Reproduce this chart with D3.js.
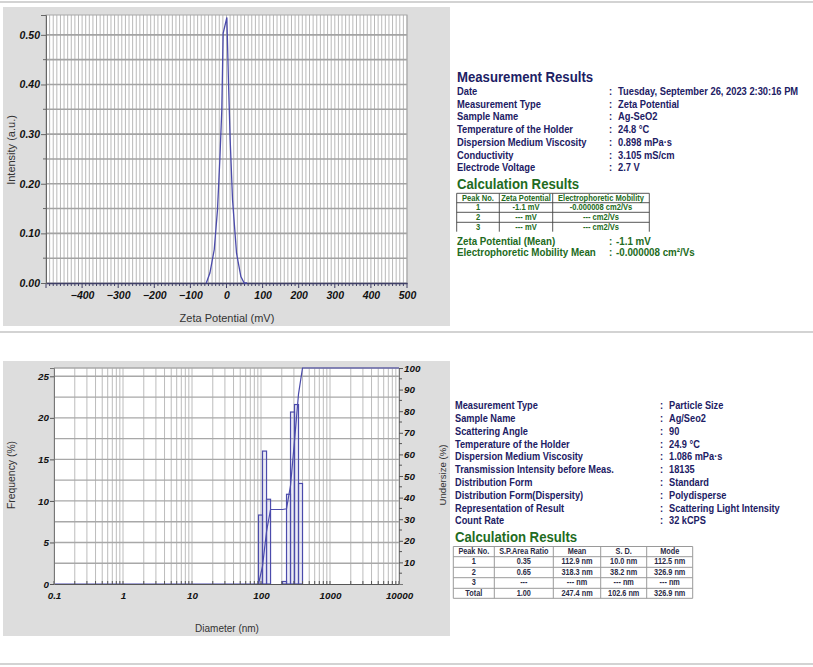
<!DOCTYPE html>
<html><head><meta charset="utf-8">
<script src="https://cdn.jsdelivr.net/npm/d3@7/dist/d3.min.js"></script>
<style>body{margin:0;background:#fff;}svg{display:block;}</style>
</head><body>
<svg id="c" width="813" height="667"></svg>
<script>
// ---------- DATA ----------
// Zeta potential distribution
const zetaMV = [-56, -46, -34, -25, -18.5, -13, -9.3, 1, 5.6, 10.2, 16.7, 27.8, 39.8, 49, 57];
const zetaIntensity = [0, 0.02, 0.067, 0.147, 0.248, 0.349, 0.503, 0.535, 0.402, 0.288, 0.168, 0.06, 0.013, 0, 0];
const zetaXTicks = [-400, -300, -200, -100, 0, 100, 200, 300, 400, 500];
const zetaYTicks = [0, 0.1, 0.2, 0.3, 0.4, 0.5];

// Particle size distribution (bin edges in nm, frequency %)
const binEdges = [92.1, 105.2, 120.3, 137.5, 157.1, 179.5, 205.1, 234.4, 267.8, 306.0, 349.6, 399.5];
const frequency = [8.3, 16.0, 10.2, 0, 0, 0, 0.3, 10.8, 20.7, 21.6, 12.1];
const undersizeD = [0.1, 92.1, 105.2, 120.3, 137.5, 157.1, 179.5, 205.1, 234.4, 267.8, 306.0, 349.6, 399.5, 10000];
const undersize = [0, 0, 8.3, 24.3, 34.5, 34.5, 34.5, 34.5, 34.8, 45.6, 66.3, 87.9, 100, 100];
const sizeXTicks = [0.1, 1, 10, 100, 1000, 10000];
const freqTicks = [0, 5, 10, 15, 20, 25];
const underTicks = [10, 20, 30, 40, 50, 60, 70, 80, 90, 100];

// Info texts
const zetaInfoLabels = ["Date", "Measurement Type", "Sample Name", "Temperature of the Holder", "Dispersion Medium Viscosity", "Conductivity", "Electrode Voltage"];
const zetaInfoValues = ["Tuesday, September 26, 2023 2:30:16 PM", "Zeta Potential", "Ag-SeO2", "24.8 °C", "0.898 mPa·s", "3.105 mS/cm", "2.7 V"];
const zetaTableHead = ["Peak No.", "Zeta Potential", "Electrophoretic Mobility"];
const zetaTableRows = [["1", "-1.1 mV", "-0.000008 cm2/Vs"], ["2", "--- mV", "--- cm2/Vs"], ["3", "--- mV", "--- cm2/Vs"]];
const zetaMeanLabels = ["Zeta Potential (Mean)", "Electrophoretic Mobility Mean"];
const zetaMeanValues = ["-1.1 mV", "-0.000008 cm²/Vs"];

const sizeInfoLabels = ["Measurement Type", "Sample Name", "Scattering Angle", "Temperature of the Holder", "Dispersion Medium Viscosity", "Transmission Intensity before Meas.", "Distribution Form", "Distribution Form(Dispersity)", "Representation of Result", "Count Rate"];
const sizeInfoValues = ["Particle Size", "Ag/Seo2", "90", "24.9 °C", "1.086 mPa·s", "18135", "Standard", "Polydisperse", "Scattering Light Intensity", "32 kCPS"];
const sizeTableHead = ["Peak No.", "S.P.Area Ratio", "Mean", "S. D.", "Mode"];
const sizeTableRows = [["1", "0.35", "112.9 nm", "10.0 nm", "112.5 nm"], ["2", "0.65", "318.3 nm", "38.2 nm", "326.9 nm"], ["3", "---", "--- nm", "--- nm", "--- nm"], ["Total", "1.00", "247.4 nm", "102.6 nm", "326.9 nm"]];

// ---------- DRAW ----------
const svg = d3.select("#c");
const NAVY = "#1c2064", GREEN = "#226b22", LINE = "#4b4bab";
const FONT = "'Liberation Sans', Arial, sans-serif";

function ct(g, x, y, txt, size, color, weight, anchor, sx) {
  return g.append("text")
    .attr("transform", `translate(${x},${y}) scale(${sx || 0.85},1)`)
    .attr("font-family", FONT).attr("font-size", size)
    .attr("font-weight", weight || "bold").attr("fill", color)
    .attr("text-anchor", anchor || "start").text(txt);
}

// separators
[2, 332, 664].forEach(y => svg.append("line").attr("x1", 0).attr("x2", 813).attr("y1", y).attr("y2", y)
  .attr("stroke", "#c4c4c4").attr("stroke-width", 1.5));

// ===== Top chart =====
const topG = svg.append("g");
topG.append("rect").attr("x", 3).attr("y", 7).attr("width", 447).attr("height", 319).attr("fill", "#dddddd");
const xZ = d3.scaleLinear().domain([-500, 500]).range([46, 407]);
const yZ = d3.scaleLinear().domain([0, 0.54]).range([283, 15]);
topG.append("rect").attr("x", 46).attr("y", 15).attr("width", 361).attr("height", 268).attr("fill", "#fff");
topG.append("g").selectAll("line").data(d3.range(-490, 501, 10)).join("line")
  .attr("x1", d => xZ(d)).attr("x2", d => xZ(d)).attr("y1", 15).attr("y2", 283)
  .attr("stroke", "#b9b9b9").attr("stroke-width", 1);
topG.append("g").selectAll("line").data(d3.range(1, 11).map(i => i * 0.05)).join("line")
  .attr("x1", 46).attr("x2", 407).attr("y1", d => yZ(d)).attr("y2", d => yZ(d))
  .attr("stroke", "#a3a3a3").attr("stroke-width", 1.6);
topG.append("rect").attr("x", 46).attr("y", 15).attr("width", 361).attr("height", 268)
  .attr("fill", "none").attr("stroke", "#a8a8a8");
// axes
const xAxZ = d3.axisBottom(xZ).tickValues(zetaXTicks).tickSize(0).tickFormat(d3.format("d"));
const gxz = topG.append("g").attr("transform", "translate(0,283)").call(xAxZ);
gxz.select(".domain").attr("stroke", "#3f3f66").attr("stroke-width", 1.3);
gxz.selectAll("text").attr("dy", "1.25em").attr("font-family", FONT).attr("font-size", 10.5)
  .attr("font-weight", "bold").attr("font-style", "italic").attr("fill", "#111");
topG.append("g").selectAll("line").data(d3.range(-500, 501, 10)).join("line")
  .attr("x1", d => xZ(d)).attr("x2", d => xZ(d)).attr("y1", 283)
  .attr("y2", d => 283 + (d % 100 === 0 ? 5 : 3)).attr("stroke", "#3f3f66");
const yAxZ = d3.axisLeft(yZ).tickValues(zetaYTicks).tickSize(5).tickPadding(1).tickFormat(d3.format(".2f"));
const gyz = topG.append("g").attr("transform", "translate(46,0)").call(yAxZ);
gyz.select(".domain").attr("stroke", "#666");
gyz.selectAll("line").attr("stroke", "#666");
gyz.selectAll("text").attr("font-family", FONT).attr("font-size", 10.5)
  .attr("font-weight", "bold").attr("font-style", "italic").attr("fill", "#111");
topG.append("g").selectAll("line").data([0.05, 0.15, 0.25, 0.35, 0.45]).join("line")
  .attr("x1", 43).attr("x2", 46).attr("y1", d => yZ(d)).attr("y2", d => yZ(d)).attr("stroke", "#666");
// curve
topG.append("path").datum(zetaMV.map((m, i) => [m, zetaIntensity[i]]))
  .attr("d", d3.line().x(d => xZ(d[0])).y(d => yZ(d[1])))
  .attr("fill", "none").attr("stroke", LINE).attr("stroke-width", 1.3);
topG.append("text").attr("x", 227).attr("y", 322).attr("text-anchor", "middle")
  .attr("font-family", FONT).attr("font-size", 11).attr("fill", "#333").text("Zeta Potential (mV)");
topG.append("text").attr("transform", "translate(15,150) rotate(-90)").attr("text-anchor", "middle")
  .attr("font-family", FONT).attr("font-size", 11).attr("fill", "#333").text("Intensity (a.u.)");

// ===== Top info =====
const ti = svg.append("g");
ct(ti, 457, 82, "Measurement Results", 15.5, NAVY);
zetaInfoLabels.forEach((l, i) => {
  const y = 95 + i * 12.7;
  ct(ti, 457, y, l, 11, NAVY);
  ct(ti, 609, y, ":", 11, NAVY);
  ct(ti, 618, y, zetaInfoValues[i], 11, NAVY);
});
ct(ti, 457, 188.5, "Calculation Results", 15.5, GREEN);
const tcols = [456.7, 499.3, 552.7, 649.3];
const trows = [193.3, 202.7, 212.3, 222.3, 231.7];
trows.slice(0, 4).forEach(y => ti.append("line").attr("x1", tcols[0]).attr("x2", tcols[3]).attr("y1", y).attr("y2", y).attr("stroke", "#444").attr("stroke-width", 0.9));
tcols.forEach(x => ti.append("line").attr("x1", x).attr("x2", x).attr("y1", trows[0]).attr("y2", trows[4]).attr("stroke", "#444").attr("stroke-width", 0.9));
[zetaTableHead].concat(zetaTableRows).forEach((row, r) => {
  row.forEach((c, k) => {
    ct(ti, (tcols[k] + tcols[k + 1]) / 2, trows[r] + 7.4, c, 8.8, GREEN, "bold", "middle", 0.86);
  });
});
zetaMeanLabels.forEach((l, i) => {
  const y = 244.5 + i * 11.8;
  ct(ti, 457, y, l, 11.5, GREEN);
  ct(ti, 609, y, ":", 11.5, GREEN);
  ct(ti, 616, y, zetaMeanValues[i], 11.5, GREEN);
});

// ===== Bottom chart =====
const bot = svg.append("g");
bot.append("rect").attr("x", 3).attr("y", 361).attr("width", 447).attr("height", 275).attr("fill", "#dddddd");
const xs = d3.scaleLog().domain([0.1, 10000]).range([54, 399]);
const yL = d3.scaleLinear().domain([0, 26]).range([584, 368]);
const yR = d3.scaleLinear().domain([0, 100]).range([584, 368]);
bot.append("rect").attr("x", 54).attr("y", 368).attr("width", 345).attr("height", 216).attr("fill", "#fff");
const minorD = [];
[0.1, 1, 10, 100, 1000].forEach(dec => { for (let k = 1; k <= 9; k++) minorD.push(dec * k); });
minorD.push(10000);
bot.append("g").selectAll("line").data(minorD).join("line")
  .attr("x1", d => xs(d)).attr("x2", d => xs(d)).attr("y1", 368).attr("y2", 584)
  .attr("stroke", "#bcbcbc").attr("stroke-width", 1);
bot.append("g").selectAll("line").data(d3.range(1, 11).map(i => i * 2.5)).join("line")
  .attr("x1", 54).attr("x2", 399).attr("y1", d => yL(d)).attr("y2", d => yL(d))
  .attr("stroke", "#a8a8a8").attr("stroke-width", 1.4);
bot.append("line").attr("x1", 54).attr("x2", 399).attr("y1", 368).attr("y2", 368).attr("stroke", "#a8a8a8").attr("stroke-width", 1.4);
// bars
bot.append("g").selectAll("rect").data(frequency).join("rect")
  .attr("x", (d, i) => xs(binEdges[i])).attr("width", (d, i) => xs(binEdges[i + 1]) - xs(binEdges[i]))
  .attr("y", d => yL(d)).attr("height", d => 584 - yL(d))
  .attr("fill", "rgba(190,190,225,0.28)").attr("stroke", LINE).attr("stroke-width", 1.2);
// undersize
bot.append("path").datum(undersizeD.map((d, i) => [d, undersize[i]]))
  .attr("d", d3.line().x(d => xs(d[0])).y(d => yR(d[1])))
  .attr("fill", "none").attr("stroke", LINE).attr("stroke-width", 1.2);
// axes
const gxs = bot.append("g").attr("transform", "translate(0,584)")
  .call(d3.axisBottom(xs).tickValues(sizeXTicks).tickSize(0).tickFormat(d => String(d)));
gxs.select(".domain").attr("stroke", "#555");
gxs.selectAll("text").attr("dy", "1.2em").attr("font-family", FONT).attr("font-size", 9.8)
  .attr("font-weight", "bold").attr("font-style", "italic").attr("fill", "#111");
bot.append("g").selectAll("line").data(minorD).join("line")
  .attr("x1", d => xs(d)).attr("x2", d => xs(d)).attr("y1", 584).attr("y2", 581).attr("stroke", "#555");
const gyl = bot.append("g").attr("transform", "translate(54,0)")
  .call(d3.axisLeft(yL).tickValues(freqTicks).tickSize(4).tickPadding(1));
gyl.select(".domain").attr("stroke", "#777");
gyl.selectAll("line").attr("stroke", "#555");
gyl.selectAll("text").attr("font-family", FONT).attr("font-size", 9.8)
  .attr("font-weight", "bold").attr("font-style", "italic").attr("fill", "#111");
const gyr = bot.append("g").attr("transform", "translate(399,0)")
  .call(d3.axisRight(yR).tickValues(underTicks).tickSize(4).tickPadding(1));
gyr.select(".domain").attr("stroke", "#777");
gyr.selectAll("line").attr("stroke", "#555");
gyr.selectAll("text").attr("font-family", FONT).attr("font-size", 9.8)
  .attr("font-weight", "bold").attr("font-style", "italic").attr("fill", "#111");
bot.append("g").selectAll("line").data(d3.range(5, 100, 10)).join("line")
  .attr("x1", 399).attr("x2", 402).attr("y1", d => yR(d)).attr("y2", d => yR(d)).attr("stroke", "#555");
bot.append("text").attr("x", 227).attr("y", 632).attr("text-anchor", "middle")
  .attr("font-family", FONT).attr("font-size", 10).attr("fill", "#333").text("Diameter (nm)");
bot.append("text").attr("transform", "translate(15,475) rotate(-90)").attr("text-anchor", "middle")
  .attr("font-family", FONT).attr("font-size", 10.4).attr("fill", "#333").text("Frequency (%)");
bot.append("text").attr("transform", "translate(446,475) rotate(-90)").attr("text-anchor", "middle")
  .attr("font-family", FONT).attr("font-size", 9.6).attr("fill", "#333").text("Undersize (%)");

// ===== Bottom info =====
const bi = svg.append("g");
sizeInfoLabels.forEach((l, i) => {
  const y = 409.3 + i * 12.78;
  ct(bi, 455, y, l, 11, NAVY, "bold", "start", 0.84);
  ct(bi, 660, y, ":", 11, NAVY, "bold", "start", 0.84);
  ct(bi, 669, y, sizeInfoValues[i], 11, NAVY, "bold", "start", 0.84);
});
ct(bi, 455, 542, "Calculation Results", 15.5, GREEN);
const bcols = [453.3, 494.3, 553.3, 600.7, 646.7, 692.7];
const brows = [546.5, 556.7, 567.3, 577.7, 588.3, 598.3];
brows.forEach(y => bi.append("line").attr("x1", bcols[0]).attr("x2", bcols[5]).attr("y1", y).attr("y2", y).attr("stroke", "#9a9a9a").attr("stroke-width", 1));
bcols.forEach(x => bi.append("line").attr("x1", x).attr("x2", x).attr("y1", brows[0]).attr("y2", brows[5]).attr("stroke", "#9a9a9a").attr("stroke-width", 1));
[sizeTableHead].concat(sizeTableRows).forEach((row, r) => {
  row.forEach((c, k) => {
    ct(bi, (bcols[k] + bcols[k + 1]) / 2, brows[r] + 7.6, c, 8.6, "#2b2b45", "bold", "middle", 0.85);
  });
});
</script>
</body></html>
